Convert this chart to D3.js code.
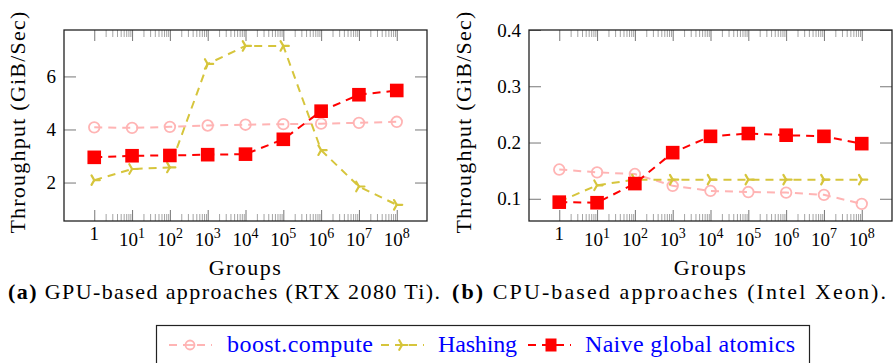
<!DOCTYPE html>
<html>
<head>
  <script src="https://d3js.org/d3.v7.min.js"></script>
  <style>
    body { margin: 0; background: #fff; }
  </style>
</head>
<body>
<svg id="chart" width="894" height="363"></svg>
<script>

// groups on the x axis (log scale)
var groups = [1, 1e1, 1e2, 1e3, 1e4, 1e5, 1e6, 1e7, 1e8];
var groupExp = ["", "1", "2", "3", "4", "5", "6", "7", "8"];

// (a) GPU throughput, GiB/s
var gpuBoost   = [4.08, 4.06, 4.10, 4.15, 4.18, 4.20, 4.22, 4.25, 4.29];
var gpuHashing = [2.09, 2.51, 2.57, 6.47, 7.15, 7.15, 3.22, 1.85, 1.16];
var gpuNaive   = [2.95, 3.01, 3.02, 3.05, 3.07, 3.63, 4.69, 5.31, 5.47];

// (b) CPU throughput, GiB/s
var cpuBoost   = [0.152, 0.147, 0.144, 0.123, 0.114, 0.112, 0.111, 0.107, 0.091];
var cpuHashing = [0.095, 0.124, 0.134, 0.134, 0.134, 0.134, 0.134, 0.134, 0.134];
var cpuNaive   = [0.094, 0.093, 0.127, 0.182, 0.211, 0.216, 0.213, 0.211, 0.198];

var gpuYTicks = [2, 4, 6];
var cpuYTicks = [0.1, 0.2, 0.3, 0.4];

var seriesNames = ["boost.compute", "Hashing", "Naive global atomics"];
var colors = ["#ffb4b4", "#d6c53c", "#ff0000"];
var markers = ["circle", "tri", "square"];

var svg = d3.select("#chart");

// all text goes through here so the serif font is set on the element itself
function txt(parent) {
  return parent.append("text").style("font-family", "'Liberation Serif'");
}

// stretch a text to a given width with letter spacing (LaTeX fonts run wider)
function fitWidth(t, target) {
  var node = t.node();
  var len = node.getComputedTextLength();
  var n = node.textContent.length;
  if (n > 1) t.style("letter-spacing", ((target - len) / (n - 1)) + "px");
  return t;
}

// minor log ticks 2..9 per decade between 1 and 1e8
var minorTicks = [];
for (var e = 0; e < 8; e++) {
  for (var m = 2; m <= 9; m++) minorTicks.push(m * Math.pow(10, e));
}

function drawMarker(g, type, color) {
  if (type === "circle") {
    g.append("circle").attr("r", 5.3)
      .attr("fill", "none")
      .attr("stroke", color).attr("stroke-width", 1.8);
  } else if (type === "square") {
    g.append("rect").attr("x", -6.8).attr("y", -6.8)
      .attr("width", 13.6).attr("height", 13.6)
      .attr("fill", color);
  } else {
    // three armed star, one arm pointing right
    [0, 120, 240].forEach(function(a) {
      var r = a * Math.PI / 180;
      g.append("line").attr("x1", 0).attr("y1", 0)
        .attr("x2", 5.5 * Math.cos(r)).attr("y2", -5.5 * Math.sin(r))
        .attr("stroke", color).attr("stroke-width", 2.2)
        .attr("stroke-linecap", "round");
    });
  }
}

function styleTicks(color, w) {
  return function(a) {
    a.select(".domain").remove();
    a.selectAll("line").attr("stroke", color).attr("stroke-width", w);
  };
}

function drawPanel(opts) {
  var left = opts.left, right = opts.right, top = 30, bottom = 221;

  var x = d3.scaleLog().domain([Math.pow(10, -0.8), Math.pow(10, 8.8)]).range([left, right]);
  var y = d3.scaleLinear().domain(opts.yDomain).range([bottom, top]);

  var g = svg.append("g");

  // minor ticks (inside, top and bottom)
  g.append("g").attr("transform", "translate(0," + bottom + ")")
    .call(d3.axisBottom(x).tickValues(minorTicks).tickSize(-7).tickFormat(""))
    .call(styleTicks("#9a9a9a", 0.9));
  g.append("g").attr("transform", "translate(0," + top + ")")
    .call(d3.axisTop(x).tickValues(minorTicks).tickSize(-7).tickFormat(""))
    .call(styleTicks("#9a9a9a", 0.9));

  // major x ticks
  g.append("g").attr("transform", "translate(0," + bottom + ")")
    .call(d3.axisBottom(x).tickValues(groups).tickSize(-11).tickFormat(""))
    .call(styleTicks("#777", 1));
  g.append("g").attr("transform", "translate(0," + top + ")")
    .call(d3.axisTop(x).tickValues(groups).tickSize(-11).tickFormat(""))
    .call(styleTicks("#777", 1));

  // y ticks, left and right, inside
  g.append("g").attr("transform", "translate(" + left + ",0)")
    .call(d3.axisLeft(y).tickValues(opts.yTicks).tickSize(-12).tickFormat(""))
    .call(styleTicks("#777", 1));
  g.append("g").attr("transform", "translate(" + right + ",0)")
    .call(d3.axisRight(y).tickValues(opts.yTicks).tickSize(-12).tickFormat(""))
    .call(styleTicks("#777", 1));

  // x tick labels with superscripts
  groups.forEach(function(v, i) {
    if (groupExp[i] === "") {
      txt(g).attr("x", x(v)).attr("y", 240)
        .attr("text-anchor", "middle").style("font-size", "19px").text("1");
    } else {
      var t = txt(g).attr("x", x(v)).attr("y", 246)
        .attr("text-anchor", "middle").style("font-size", "19px");
      t.append("tspan").text("10");
      t.append("tspan").attr("dy", -8).style("font-size", "14px").text(groupExp[i]);
    }
  });

  // y tick labels
  opts.yTicks.forEach(function(v) {
    txt(g).attr("x", opts.yLabelX).attr("y", y(v)).attr("dy", "0.35em")
      .attr("text-anchor", "end").style("font-size", "19px").text(opts.yFormat(v));
  });

  // series
  var clipId = "clip" + left;
  svg.append("clipPath").attr("id", clipId).append("rect")
    .attr("x", left).attr("y", top).attr("width", right - left).attr("height", bottom - top);
  var plot = g.append("g").attr("clip-path", "url(#" + clipId + ")");

  var line = d3.line().x(function(d) { return x(d[0]); }).y(function(d) { return y(d[1]); });

  opts.series.forEach(function(vals, s) {
    var pts = groups.map(function(gv, i) { return [gv, vals[i]]; });
    plot.append("path").datum(pts)
      .attr("fill", "none").attr("stroke", colors[s]).attr("stroke-width", 2)
      .attr("stroke-dasharray", "8,6").attr("d", line);
    pts.forEach(function(p) {
      var mg = plot.append("g").attr("transform", "translate(" + x(p[0]) + "," + y(p[1]) + ")");
      drawMarker(mg, markers[s], colors[s]);
    });
  });

  // frame
  g.append("rect").attr("x", left).attr("y", top).attr("width", right - left).attr("height", bottom - top)
    .attr("fill", "none").attr("stroke", "#222").attr("stroke-width", 1.3);

  // axis titles
  var gx = txt(g).attr("x", (left + right) / 2).attr("y", 275)
    .attr("text-anchor", "middle").style("font-size", "22px").text("Groups");
  fitWidth(gx, 72);

  var gy = txt(g).attr("transform", "translate(" + opts.titleX + ",122) rotate(-90)")
    .attr("text-anchor", "middle").style("font-size", "22px")
    .text("Throughput (GiB/Sec)");
  fitWidth(gy, 222);

  // caption
  var cap = txt(svg).attr("x", opts.capX).attr("y", 299).style("font-size", "22px");
  cap.append("tspan").style("font-weight", "bold").text(opts.capTag);
  cap.append("tspan").text(" " + opts.caption);
  fitWidth(cap, opts.capW);
}

drawPanel({
  left: 64, right: 427, yDomain: [0.55, 7.75], yTicks: gpuYTicks,
  yFormat: d3.format("d"), yLabelX: 56, titleX: 25,
  series: [gpuBoost, gpuHashing, gpuNaive],
  capX: 8, capW: 432, capTag: "(a)", caption: "GPU-based approaches (RTX 2080 Ti)."
});

drawPanel({
  left: 529, right: 892, yDomain: [0.0605, 0.4], yTicks: cpuYTicks,
  yFormat: d3.format(".1f"), yLabelX: 521, titleX: 471,
  series: [cpuBoost, cpuHashing, cpuNaive],
  capX: 452, capW: 434, capTag: "(b)", caption: "CPU-based approaches (Intel Xeon)."
});

// legend
var legend = svg.append("g");
legend.append("rect").attr("x", 156.5).attr("y", 325.5).attr("width", 653).attr("height", 50)
  .attr("fill", "none").attr("stroke", "#222").attr("stroke-width", 1.2);

var legendItems = [
  { lineX: 168, markX: 190, textX: 227, textW: 146 },
  { lineX: 380, markX: 402, textX: 438, textW: 79 },
  { lineX: 527, markX: 551, textX: 585, textW: 210 }
];
legendItems.forEach(function(it, s) {
  legend.append("line").attr("x1", it.lineX).attr("x2", it.lineX + 44)
    .attr("y1", 345).attr("y2", 345)
    .attr("stroke", colors[s]).attr("stroke-width", 2).attr("stroke-dasharray", "8,6")
    .attr("stroke-dashoffset", -1);
  var mg = legend.append("g").attr("transform", "translate(" + it.markX + ",345)");
  if (markers[s] === "square") {
    mg.append("rect").attr("x", -5.5).attr("y", -6.5).attr("width", 11).attr("height", 13).attr("fill", colors[s]);
  } else if (markers[s] === "circle") {
    mg.append("circle").attr("r", 4.5).attr("fill", "#fff").attr("stroke", colors[s]).attr("stroke-width", 1.8);
    mg.append("line").attr("x1", -4.5).attr("x2", 4.5).attr("y1", 0).attr("y2", 0).attr("stroke", colors[s]).attr("stroke-width", 1.8);
  } else {
    drawMarker(mg, "tri", colors[s]);
  }
  var lt = txt(legend).attr("x", it.textX).attr("y", 352).style("font-size", "24px")
    .attr("fill", "#0000ff").text(seriesNames[s]);
  fitWidth(lt, it.textW);
});

</script>
</body>
</html>
